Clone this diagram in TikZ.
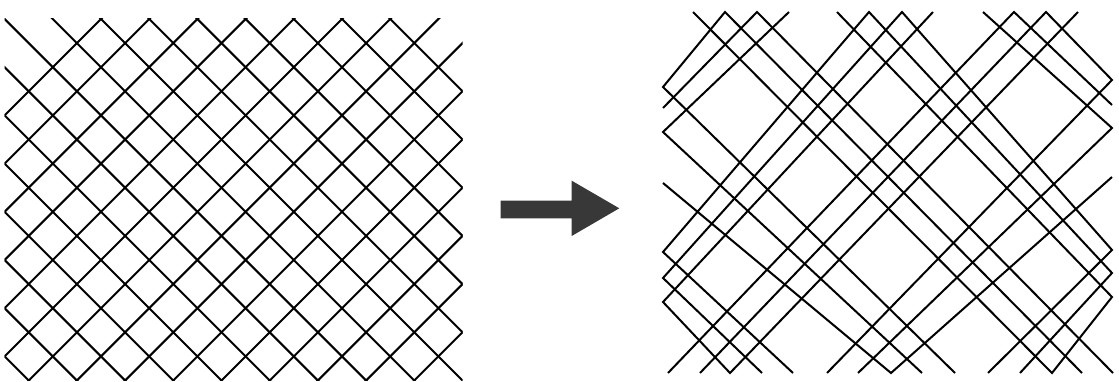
\documentclass[tikz,border=0pt]{standalone}
\tikzset{every picture/.style={line width=2pt}}
\tikzset{bundle/.style={line join=miter}}

\begin{document}
\begin{tikzpicture}[x=1pt,y=-1pt]
    % 画布
    \useasboundingbox (0,0) rectangle (1119,382);

    % 左图：均匀网格
    \begin{scope}
        \clip (4.6,19) rectangle (462.5,380.5);
        \foreach \k in {-9,...,6}
            \draw (101+48.2*\k-420,19-420) -- (101+48.2*\k+420,19+420);
        \foreach \k in {0,...,14}
            \draw (101+48.2*\k+420,19-420) -- (101+48.2*\k-420,19+420);
    \end{scope}

    % 箭头
    \fill[black!78] (500.7,200.7) -- (571.7,200.7) -- (571.7,180.7) -- (619.3,208.3)
        -- (571.7,236) -- (571.7,218.3) -- (500.7,218.3) -- cycle;

    % 右图：成束的线
    \draw[bundle] (837,12) -- (1112,297) -- (1052,373) -- (693,12);
    \draw[bundle] (955,373) -- (663,87) -- (725,12) -- (1082,373);
    \draw[bundle] (663,108) -- (757,12) -- (1113,373);
    \draw[bundle] (922,373) -- (663,132) -- (789,12);
    \draw[bundle] (793,373) -- (663,252) -- (869,12) -- (1112,273) -- (1020,373);
    \draw[bundle] (762,373) -- (663,278) -- (902,12) -- (1112,250) -- (988,373);
    \draw[bundle] (1078,12) -- (730,373) -- (663,302) -- (933,12);
    \draw[bundle] (983,12) -- (1112,128) -- (858,373);
    \draw[bundle] (668,373) -- (1014,12) -- (1112,105);
    \draw[bundle] (700,373) -- (1046,12) -- (1112,80) -- (827,373);
    \draw[bundle] (663,183) -- (891,373) -- (1112,177);
\end{tikzpicture}
\end{document}
